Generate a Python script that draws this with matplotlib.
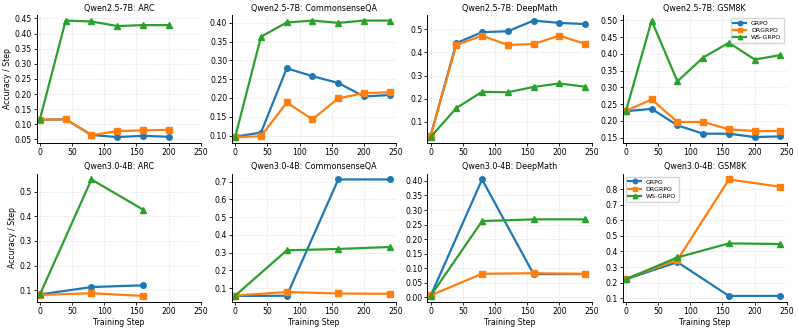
import matplotlib
matplotlib.use("Agg")
import matplotlib.pyplot as plt
from matplotlib.ticker import MultipleLocator

x_top_arc = [0, 40, 80, 120, 160, 200]
x_top = [0, 40, 80, 120, 160, 200, 240]
x_bot_arc = [0, 80, 160]
x_bot = [0, 80, 160, 240]

# Qwen2.5-7B
arc7_grpo = [0.115, 0.117, 0.065, 0.058, 0.062, 0.059]
arc7_dr = [0.115, 0.117, 0.064, 0.078, 0.080, 0.082]
arc7_ws = [0.117, 0.443, 0.440, 0.425, 0.428, 0.428]

csqa7_grpo = [0.097, 0.108, 0.279, 0.258, 0.240, 0.204, 0.208]
csqa7_dr = [0.096, 0.098, 0.188, 0.143, 0.199, 0.213, 0.215]
csqa7_ws = [0.097, 0.363, 0.401, 0.406, 0.400, 0.406, 0.406]

dm7_grpo = [0.040, 0.440, 0.487, 0.491, 0.537, 0.527, 0.522]
dm7_dr = [0.040, 0.432, 0.472, 0.432, 0.436, 0.472, 0.437]
dm7_ws = [0.035, 0.160, 0.230, 0.228, 0.251, 0.266, 0.252]

gsm7_grpo = [0.229, 0.236, 0.187, 0.162, 0.162, 0.152, 0.154]
gsm7_dr = [0.230, 0.264, 0.197, 0.197, 0.175, 0.170, 0.170]
gsm7_ws = [0.229, 0.499, 0.318, 0.389, 0.433, 0.383, 0.396]

# Qwen3.0-4B
arc4_grpo = [0.083, 0.113, 0.120]
arc4_dr = [0.081, 0.088, 0.077]
arc4_ws = [0.083, 0.549, 0.427]

csqa4_grpo = [0.056, 0.057, 0.713, 0.713]
csqa4_dr = [0.058, 0.078, 0.070, 0.068]
csqa4_ws = [0.058, 0.313, 0.321, 0.332]

dm4_grpo = [0.005, 0.405, 0.080, 0.080]
dm4_dr = [0.007, 0.081, 0.083, 0.081]
dm4_ws = [0.005, 0.262, 0.268, 0.268]

gsm4_grpo = [0.222, 0.332, 0.115, 0.115]
gsm4_dr = [0.226, 0.345, 0.862, 0.815]
gsm4_ws = [0.222, 0.362, 0.452, 0.448]

titles = ["Qwen2.5-7B: ARC", "Qwen2.5-7B: CommonsenseQA", "Qwen2.5-7B: DeepMath", "Qwen2.5-7B: GSM8K",
          "Qwen3.0-4B: ARC", "Qwen3.0-4B: CommonsenseQA", "Qwen3.0-4B: DeepMath", "Qwen3.0-4B: GSM8K"]
panels = [
    (x_top_arc, arc7_grpo, arc7_dr, arc7_ws),
    (x_top, csqa7_grpo, csqa7_dr, csqa7_ws),
    (x_top, dm7_grpo, dm7_dr, dm7_ws),
    (x_top, gsm7_grpo, gsm7_dr, gsm7_ws),
    (x_bot_arc, arc4_grpo, arc4_dr, arc4_ws),
    (x_bot, csqa4_grpo, csqa4_dr, csqa4_ws),
    (x_bot, dm4_grpo, dm4_dr, dm4_ws),
    (x_bot, gsm4_grpo, gsm4_dr, gsm4_ws),
]
ysteps = [0.05, 0.05, 0.1, 0.05, 0.1, 0.1, 0.05, 0.1]
labels = ["GRPO", "DRGRPO", "WS-GRPO"]
colors = ["#1f77b4", "#ff7f0e", "#2ca02c"]
markers = ["o", "s", "^"]

fs = 5.6
plt.rcParams["font.family"] = ["DejaVu Sans"]
fig, axes = plt.subplots(2, 4, figsize=(7.98, 3.28), dpi=100)
for i, ax in enumerate(axes.flat):
    xs, g, d, w = panels[i]
    for ys, lab, c, m in zip((g, d, w), labels, colors, markers):
        ax.plot(xs, ys, marker=m, color=c, label=lab, linewidth=1.6, markersize=4)
    ax.set_title(titles[i], fontsize=fs + 0.2, pad=3)
    ax.set_xlim(-5, 250)
    ax.set_xticks([0, 50, 100, 150, 200, 250])
    ax.yaxis.set_major_locator(MultipleLocator(ysteps[i]))
    ax.tick_params(labelsize=fs, length=2, width=0.6, pad=1.5)
    ax.grid(True, linestyle="--", linewidth=0.4, alpha=0.4)
    for s in ("left", "bottom"):
        ax.spines[s].set_linewidth(0.7)
    ax.spines["top"].set_visible(False)
    ax.spines["right"].set_visible(False)
    if i % 4 == 0:
        ax.set_ylabel("Accuracy / Step", fontsize=fs, labelpad=2)
    if i >= 4:
        ax.set_xlabel("Training Step", fontsize=fs, labelpad=2)
axes[0, 3].legend(loc="upper right", fontsize=4.5, frameon=True, markerscale=0.8,
                  handlelength=2, borderpad=0.4, labelspacing=0.3)
axes[1, 3].legend(loc="upper left", fontsize=4.5, frameon=True, markerscale=0.8,
                  handlelength=2, borderpad=0.4, labelspacing=0.3)
fig.subplots_adjust(left=0.046, right=0.986, top=0.955, bottom=0.08, wspace=0.19, hspace=0.24)
fig.savefig("out.png", dpi=100)
